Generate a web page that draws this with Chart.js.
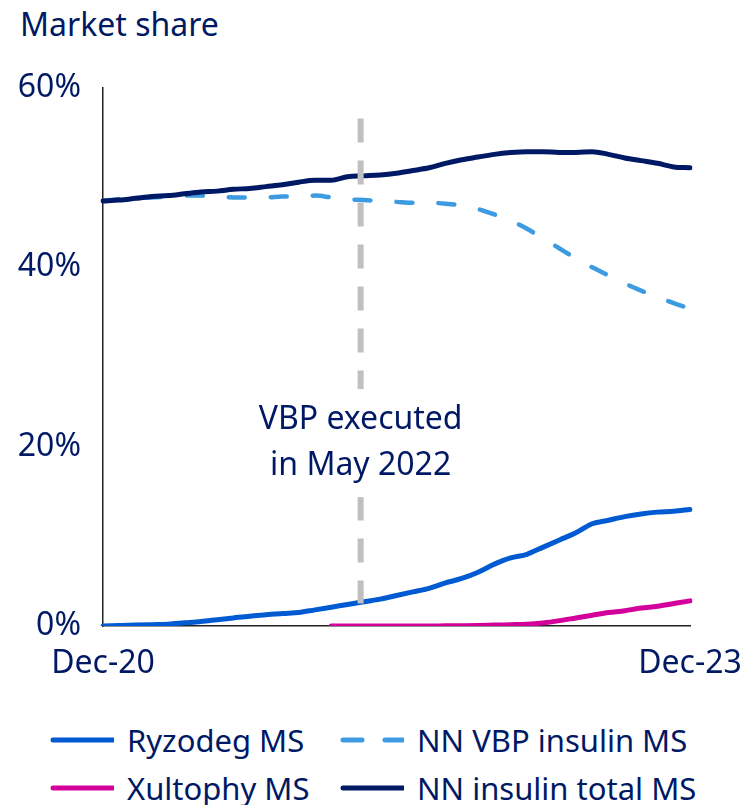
<!DOCTYPE html>
<html>
<head>
<meta charset="utf-8">
<script src="https://cdn.jsdelivr.net/npm/chart.js@4.4.1/dist/chart.umd.min.js"></script>
<style>
  body { margin: 0; background: #fff; }
  #wrap { position: relative; width: 740px; height: 805px; font-family: "Noto Sans", sans-serif; color: #001965; }
  #title { position: absolute; left: 20px; top: 3px; font-size: 32px; line-height: 42px; }
  #shareChart { position: absolute; left: 0; top: 0; }
  #legend { position: absolute; left: 0; top: 718px; width: 740px; }
  .item { position: absolute; height: 44px; display: flex; align-items: center; font-size: 31px; white-space: nowrap; }
  .item canvas { margin-right: 13px; }
</style>
</head>
<body>
<div id="wrap">
  <div id="title">Market share</div>
  <canvas id="shareChart" width="740" height="700"></canvas>
  <div id="legend"></div>
</div>
<script>
const months = [
  "Dec-20",
  "Jan-21", "Feb-21", "Mar-21", "Apr-21", "May-21", "Jun-21", "Jul-21", "Aug-21", "Sep-21", "Oct-21", "Nov-21", "Dec-21",
  "Jan-22", "Feb-22", "Mar-22", "Apr-22", "May-22", "Jun-22", "Jul-22", "Aug-22", "Sep-22", "Oct-22", "Nov-22", "Dec-22",
  "Jan-23", "Feb-23", "Mar-23", "Apr-23", "May-23", "Jun-23", "Jul-23", "Aug-23", "Sep-23", "Oct-23", "Nov-23", "Dec-23",
];

const ryzodegMs = [
  0.0, 0.05, 0.1, 0.15, 0.2, 0.35, 0.5, 0.7, 0.9, 1.1, 1.25, 1.4, 1.5,
  1.8, 2.1, 2.4, 2.7, 3.0, 3.4, 3.8, 4.2, 4.8, 5.3, 6.0, 6.9,
  7.6, 8.0, 8.8, 9.6, 10.4, 11.4, 11.8, 12.2, 12.5, 12.7, 12.8, 13.0,
];

const nnVbpInsulinMs = [
  47.4, 47.6, 47.7, 47.8, 47.9, 48.0, 48.0, 47.9, 47.8, 47.8, 47.8, 47.9, 47.9,
  48.0, 47.8, 47.6, 47.5, 47.4, 47.3, 47.2, 47.2, 47.1, 46.9, 46.5, 45.9,
  45.2, 44.3, 43.2, 42.1, 41.0, 40.0, 39.1, 38.2, 37.4, 36.7, 36.0, 35.4,
];

const xultophyMs = [
  null, null, null, null, null, null, null, null, null, null, null, null, null,
  null, 0, 0, 0, 0, 0, 0, 0, 0.02, 0.03, 0.05, 0.1,
  0.15, 0.2, 0.35, 0.6, 0.9, 1.2, 1.5, 1.7, 2.0, 2.2, 2.5, 2.8,
];

const nnInsulinTotalMs = [
  47.4, 47.5, 47.7, 47.9, 48.0, 48.2, 48.4, 48.5, 48.7, 48.8, 49.0, 49.2, 49.5,
  49.7, 49.7, 50.1, 50.2, 50.3, 50.5, 50.8, 51.1, 51.6, 52.0, 52.3, 52.6,
  52.8, 52.9, 52.9, 52.8, 52.8, 52.9, 52.6, 52.2, 51.9, 51.6, 51.2, 51.1,
];

const yTicks = [0, 20, 40, 60];

// VBP marker, in month-index units, plus its note
const vbpIndex = 15.8;
const vbpNote = ["VBP executed", "in May 2022"];

const navy = "#001965";
const fontFamily = "'Noto Sans', sans-serif";

const vbpMarker = {
  id: "vbpMarker",
  afterDatasetsDraw(chart) {
    const { ctx, scales } = chart;
    const x = scales.x.getPixelForValue(vbpIndex);
    const top = scales.y.getPixelForValue(56.6);
    const bottom = scales.y.getPixelForValue(2.5);
    ctx.save();
    ctx.strokeStyle = "#c0c0c0";
    ctx.lineWidth = 6;
    ctx.setLineDash([24, 18]);
    ctx.beginPath();
    ctx.moveTo(x, top);
    ctx.lineTo(x, bottom);
    ctx.stroke();

    // note with white box behind it
    const midY = scales.y.getPixelForValue(20.4);
    ctx.fillStyle = "#fff";
    ctx.fillRect(x - 112, midY - 54, 224, 108);
    ctx.fillStyle = navy;
    ctx.font = "32px " + fontFamily;
    ctx.textAlign = "center";
    ctx.textBaseline = "middle";
    ctx.fillText(vbpNote[0], x, midY - 23);
    ctx.fillText(vbpNote[1], x, midY + 23);
    ctx.restore();
  },
};

const lineStyle = {
  fill: false,
  pointRadius: 0,
  pointHoverRadius: 0,
  borderWidth: 5,
  borderCapStyle: "round",
  borderJoinStyle: "round",
  cubicInterpolationMode: "monotone",
  spanGaps: false,
};

const datasets = [
  { ...lineStyle, label: "Ryzodeg MS", data: ryzodegMs, borderColor: "#005ad2", order: 2 },
  { ...lineStyle, label: "NN VBP insulin MS", data: nnVbpInsulinMs, borderColor: "#3d9be1", borderWidth: 4.5, borderDash: [16, 26], order: 1 },
  { ...lineStyle, label: "Xultophy MS", data: xultophyMs, borderColor: "#d4009b", order: 2 },
  { ...lineStyle, label: "NN insulin total MS", data: nnInsulinTotalMs, borderColor: navy, order: 0 },
];

const chart = new Chart(document.getElementById("shareChart").getContext("2d"), {
  type: "line",
  data: { labels: months, datasets: datasets },
  options: {
    responsive: false,
    animation: false,
    events: [],
    layout: { padding: { top: 88, right: 50, left: 0, bottom: 0 } },
    plugins: { legend: { display: false }, tooltip: { enabled: false } },
    scales: {
      x: {
        grid: { display: false, drawTicks: false },
        border: { display: true, color: "#222", width: 1.5 },
        afterFit: (scale) => {
          scale.height = 74;
          scale.paddingLeft = 0;
          scale.paddingRight = 0;
        },
        ticks: {
          autoSkip: false,
          maxRotation: 0,
          padding: 19,
          color: navy,
          font: { family: fontFamily, size: 32 },
          callback: (val, i) => (i === 0 || i === months.length - 1 ? months[i] : ""),
        },
      },
      y: {
        min: 0,
        max: 60,
        grid: { display: false, drawTicks: false },
        border: { display: true, color: "#222", width: 1.5 },
        afterFit: (scale) => { scale.width = 103; },
        afterBuildTicks: (scale) => { scale.ticks = yTicks.map((v) => ({ value: v })); },
        ticks: {
          padding: 22,
          color: navy,
          font: { family: fontFamily, size: 32 },
          callback: (v) => v + "%",
        },
      },
    },
  },
  plugins: [vbpMarker],
});

// legend, two columns
const legendPos = [[50, 0], [340, 0], [50, 48], [340, 48]];
const legendEl = document.getElementById("legend");
datasets.forEach((ds, i) => {
  const item = document.createElement("div");
  item.className = "item";
  item.style.left = legendPos[i][0] + "px";
  item.style.top = legendPos[i][1] + "px";
  const swatch = document.createElement("canvas");
  swatch.width = 64;
  swatch.height = 10;
  const sctx = swatch.getContext("2d");
  sctx.strokeStyle = ds.borderColor;
  sctx.lineWidth = 5;
  sctx.lineCap = "round";
  if (ds.borderDash) sctx.setLineDash([19, 23]);
  sctx.beginPath();
  sctx.moveTo(3, 5);
  sctx.lineTo(64, 5);
  sctx.stroke();
  item.appendChild(swatch);
  const txt = document.createElement("span");
  txt.textContent = ds.label;
  item.appendChild(txt);
  legendEl.appendChild(item);
});
</script>
</body>
</html>
